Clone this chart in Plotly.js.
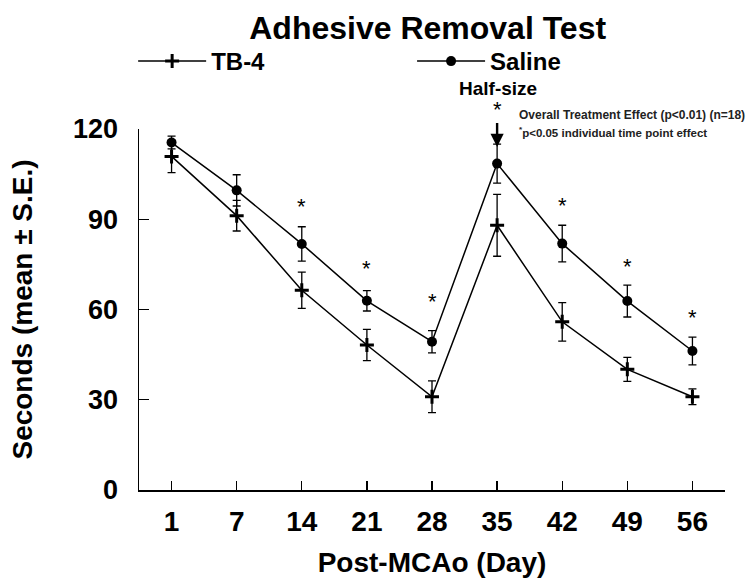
<!DOCTYPE html>
<html>
<head>
<meta charset="utf-8">
<script src="https://cdn.plot.ly/plotly-3.0.1.min.js"></script>
<style>html,body{margin:0;padding:0;background:#fff;}#chart{width:749px;height:586px;}</style>
</head>
<body>
<div id="chart"></div>
<script>
// ---- data ----
const days = ["1", "7", "14", "21", "28", "35", "42", "49", "56"];
const tb4Mean = [110.9, 91.2, 66.4, 48.2, 31.0, 88.0, 55.9, 40.1, 31.0];
const tb4SE   = [5.4, 5.1, 6.0, 5.2, 5.3, 10.3, 6.4, 4.0, 2.6];
const salineMean = [115.5, 99.6, 81.8, 62.9, 49.3, 108.5, 81.9, 62.8, 46.2];
const salineSE   = [2.1, 5.2, 5.7, 3.4, 3.7, 6.5, 6.1, 5.3, 4.6];
// individual time point significance markers (*)
const sigDays = ["14", "21", "28", "42", "49", "56"];
const sigY    = [96.1, 75.5, 64.8, 96.5, 76.4, 59.5];
// half-size arrow day and tip value
const arrowDay = "35";
const arrowTipY = 114;
const yTicks = [0, 30, 60, 90, 120];

const FONT = "Liberation Sans, Arial, Helvetica, sans-serif";

const tb4 = {
  x: days, y: tb4Mean, name: "TB-4", type: "scatter", mode: "lines+markers",
  line: {color: "#000", width: 1.5},
  marker: {symbol: "cross-thin", size: 10, color: "#000", line: {color: "#000", width: 3}},
  error_y: {type: "data", array: tb4SE, visible: true, color: "#000", thickness: 1.3, width: 4},
  cliponaxis: false, legend: "legend"
};
const saline = {
  x: days, y: salineMean, name: "Saline", type: "scatter", mode: "lines+markers",
  line: {color: "#000", width: 1.5},
  marker: {symbol: "circle", size: 10, color: "#000"},
  error_y: {type: "data", array: salineSE, visible: true, color: "#000", thickness: 1.3, width: 4},
  cliponaxis: false, legend: "legend2"
};

const annotations = sigDays.map((d, i) => ({
  x: days.indexOf(d), y: sigY[i], xref: "x", yref: "y", text: "*", showarrow: false,
  font: {family: FONT, size: 22, color: "#000"}, yshift: -6
}));
annotations.push({
  x: days.indexOf(arrowDay), y: arrowTipY, xref: "x", yref: "y", text: "*", showarrow: true,
  ax: 0, ay: -38, arrowhead: 2, arrowsize: 1.1, arrowwidth: 2.4, arrowcolor: "#000",
  standoff: 0, startstandoff: 0,
  font: {family: FONT, size: 22, color: "#000"}
});
annotations.push({
  x: 0.6126, y: 1.1127, xref: "paper", yref: "paper", text: "<b>Half-size</b>",
  showarrow: false, xanchor: "center", yanchor: "middle",
  font: {family: FONT, size: 19, color: "#000"}
});
annotations.push({
  x: 0.645, y: 1.038, xref: "paper", yref: "paper",
  text: "<b>Overall Treatment Effect (p&lt;0.01) (n=18)</b>",
  showarrow: false, xanchor: "left", yanchor: "middle",
  font: {family: FONT, size: 12, color: "#222"}
});
annotations.push({
  x: 0.645, y: 0.991, xref: "paper", yref: "paper",
  text: "<b><sup>*</sup>p&lt;0.05 individual time point effect</b>",
  showarrow: false, xanchor: "left", yanchor: "middle",
  font: {family: FONT, size: 11.5, color: "#222"}
});

const layout = {
  width: 749, height: 586,
  margin: {l: 139, r: 24, t: 129, b: 96, pad: 0},
  paper_bgcolor: "#fff", plot_bgcolor: "#fff",
  font: {family: FONT, color: "#000"},
  title: {text: "<b>Adhesive Removal Test</b>", font: {family: FONT, size: 32, color: "#000"},
          x: 0.571, xref: "container", xanchor: "center", y: 0.953, yref: "container", yanchor: "middle"},
  xaxis: {
    type: "category", categoryorder: "array", categoryarray: days, range: [-0.5, 8.5],
    showline: true, linecolor: "#000", linewidth: 1.5, mirror: false,
    ticks: "inside", ticklen: 9, tickwidth: 1.3, tickcolor: "#000",
    showgrid: false, zeroline: false, ticklabelstandoff: 6,
    tickfont: {family: FONT, size: 28, color: "#000", weight: "bold"},
    title: {text: "<b>Post-MCAo (Day)</b>", font: {family: FONT, size: 28, color: "#000"}, standoff: 16},
    automargin: false
  },
  yaxis: {
    range: [0, 120], tickvals: yTicks, ticktext: yTicks.map(String),
    showline: true, linecolor: "#000", linewidth: 1.5,
    ticks: "inside", ticklen: 10, tickwidth: 1.3, tickcolor: "#000",
    showgrid: false, zeroline: false, ticklabelstandoff: 14,
    tickfont: {family: FONT, size: 27, color: "#000", weight: "bold"},
    title: {text: "<b>Seconds (mean ± S.E.)</b>", font: {family: FONT, size: 28, color: "#000"}, standoff: 32},
    automargin: false
  },
  showlegend: true,
  legend: {x: -0.01, xanchor: "left", y: 1.187, yanchor: "middle", orientation: "h", itemwidth: 68,
           font: {family: FONT, size: 24, color: "#000", weight: "bold"}, bgcolor: "rgba(0,0,0,0)"},
  legend2: {x: 0.466, xanchor: "left", y: 1.187, yanchor: "middle", orientation: "h", itemwidth: 68,
           font: {family: FONT, size: 24, color: "#000", weight: "bold"}, bgcolor: "rgba(0,0,0,0)"},
  annotations: annotations
};

Plotly.newPlot("chart", [tb4, saline], layout, {displayModeBar: false, staticPlot: true});
</script>
</body>
</html>
